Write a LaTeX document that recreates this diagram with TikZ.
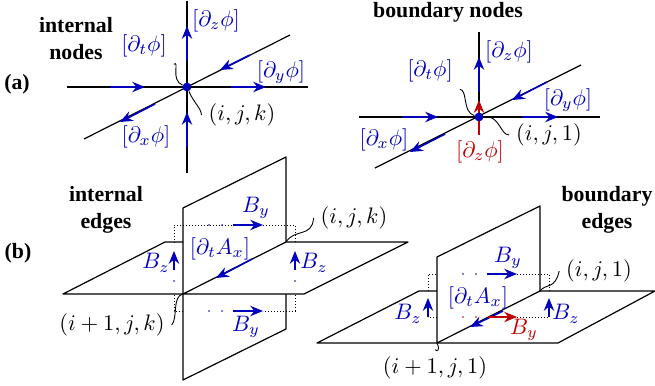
\documentclass[tikz,border=0pt]{standalone}
\usepackage{fix-cm}
\usepackage[no-math]{fontspec}
\newfontfamily\headfont{Liberation Serif}
\usetikzlibrary{arrows.meta}
\definecolor{fluxblue}{RGB}{0,0,190}
\definecolor{fluxred}{RGB}{190,0,0}
\tikzset{
  axis/.style={black,line width=0.6pt},
  plane/.style={black,line width=0.6pt,line join=round},
  flow/.style={fluxblue,line width=0.8pt,-{Stealth[length=6.4pt,width=5.2pt]}},
  redflow/.style={flow,fluxred},
  leader/.style={black,line width=0.45pt},
  gridline/.style={black,line width=0.5pt,dash pattern=on 0.6pt off 0.9pt},
  head/.style={font=\fontsize{10.9}{13}\selectfont\headfont\bfseries,align=center,text=black},
  bluelabel/.style={text=fluxblue},
  redlabel/.style={text=fluxred},
  site/.style={circle,fill=fluxblue,inner sep=0pt,minimum size=4.4pt},
}
\begin{document}
\begin{tikzpicture}[x=0.5pt,y=-0.5pt,font=\fontsize{11.2}{13}\selectfont]
  \useasboundingbox (0,0) rectangle (655,386);
  % headings
  \node[head] (lblA) at (17,84) {(a)};
  \node[head] (lblB) at (18,253) {(b)};
  \node[head] (headIN) at (76,39) {internal\\[0.5pt]nodes};
  \node[head] (headBN) at (448,12) {boundary nodes};
  \node[head] (headIE) at (106,210) {internal\\[0.5pt]edges};
  \node[head] (headBE) at (607,210) {boundary\\[0.5pt]edges};
  % (a) internal node
  \coordinate (cI) at (187,87);
  \coordinate (iW) at (67,87);
  \coordinate (iE) at (308,87);
  \coordinate (iN) at (187,1);
  \coordinate (iS) at (187,173);
  \coordinate (iF) at (84,139);
  \coordinate (iB) at (290,35);
  \draw[axis] (iW) -- (iE);
  \draw[axis] (iN) -- (iS);
  \draw[axis] (iF) -- (iB);
  \node[bluelabel] (dzI) at (216,21) {$[\partial_z\phi]$};
  \node[bluelabel] (dtI) at (144,46) {$[\partial_t\phi]$};
  \node[bluelabel] (dyI) at (281,72) {$[\partial_y\phi]$};
  \node[bluelabel] (dxI) at (146,137) {$[\partial_x\phi]$};
  \node (ijkI) at (242,115) {$(i,j,k)$};
  % (a) boundary node
  \coordinate (cB) at (479,117);
  \coordinate (bW) at (359,117);
  \coordinate (bE) at (600,117);
  \coordinate (bN) at (479,32);
  \coordinate (bF) at (375,168);
  \coordinate (bB) at (581,65);
  \draw[axis] (bW) -- (bE);
  \draw[axis] (bN) -- (cB);
  \draw[axis] (bF) -- (bB);
  \node[bluelabel] (dzB) at (509,52) {$[\partial_z\phi]$};
  \node[bluelabel] (dtB) at (430,71) {$[\partial_t\phi]$};
  \node[bluelabel] (dyB) at (568,100) {$[\partial_y\phi]$};
  \node[bluelabel] (dxB) at (384,140) {$[\partial_x\phi]$};
  \node[redlabel] (dzR) at (480,152) {$[\partial_z\phi]$};
  \node (ijkB) at (549,135) {$(i,j,1)$};
  % (b) internal edge
  \coordinate (pA) at (183,208);
  \coordinate (pB) at (286,157);
  \coordinate (pC) at (286,329);
  \coordinate (pD) at (183,380);
  \coordinate (pE) at (286,242);
  \coordinate (pF) at (286,294);
  \coordinate (pG) at (183,294);
  \coordinate (qA) at (63,294);
  \coordinate (qB) at (165,242);
  \coordinate (qC) at (183,242);
  \coordinate (qD) at (408,242);
  \coordinate (qE) at (304,294);
  \draw[plane] (pE) -- (pB) -- (pA) -- (pD) -- (pC) -- (pF);
  \draw[plane] (qC) -- (qB) -- (qA) -- (qE) -- (qD) -- (pE) -- (pG);
  \draw[gridline] (174,243) -- (174,225) -- (233,225);
  \draw[gridline] (263,225) -- (295,225) -- (295,243);
  \draw[gridline] (295,295) -- (295,311) -- (263,311);
  \draw[gridline] (183,311) -- (174,311) -- (174,295);
  \foreach \x/\y in {209/225,222/225,209/311,222/311,174/281,295/281}
    \fill[fluxblue] (\x,\y) circle (0.45pt);
  \node[bluelabel] (dtAI) at (220,249) {$[\partial_t A_x]$};
  \node[bluelabel] (byT) at (256,208) {$B_y$};
  \node[bluelabel] (byL) at (246,327) {$B_y$};
  \node[bluelabel] (bzL) at (156,263) {$B_z$};
  \node[bluelabel] (bzR) at (314,263) {$B_z$};
  \node (ijkE) at (354,218) {$(i,j,k)$};
  \node (ipE) at (112,325) {$(i+1,j,k)$};
  \draw[leader] (pE) .. controls (295,228) and (312,238) .. (ijkE.west);
  \draw[leader] (ipE.east) .. controls (178,318) and (172,296) .. (pG);
  % (b) boundary edge
  \coordinate (rA) at (437,257);
  \coordinate (rB) at (540,206);
  \coordinate (rC) at (540,291);
  \coordinate (rD) at (437,343);
  \coordinate (sA) at (317,343);
  \coordinate (sB) at (419,291);
  \coordinate (sC) at (437,291);
  \coordinate (sD) at (655,291);
  \coordinate (sE) at (558,343);
  \draw[plane] (rC) -- (rB) -- (rA) -- (rD) -- (rC);
  \draw[plane] (sC) -- (sB) -- (sA) -- (sE) -- (sD) -- (rC);
  \draw[gridline] (428,291) -- (428,274) -- (437,274);
  \draw[gridline] (517,274) -- (549,274) -- (549,291);
  \draw[gridline] (437,317) -- (428,317);
  \draw[gridline] (517,317) -- (549,317);
  \foreach \x/\y in {463/274,476/274}
    \fill[fluxblue] (\x,\y) circle (0.45pt);
  \foreach \x/\y in {463/317,476/317}
    \fill[fluxred] (\x,\y) circle (0.45pt);
  \node[bluelabel] (dtAB) at (478,298) {$[\partial_t A_x]$};
  \node[bluelabel] (byB) at (508,258) {$B_y$};
  \node[redlabel] (byR) at (524,330) {$B_y$};
  \node[bluelabel] (bzBL) at (408,314) {$B_z$};
  \node[bluelabel] (bzBR) at (566,314) {$B_z$};
  \node (ijkF) at (599,271) {$(i,j,1)$};
  \node (ipF) at (435,368) {$(i+1,j,1)$};
  \draw[leader] (rC) .. controls (546,283) and (555,290) .. (ijkF.west);
  \draw[leader] (rD) .. controls (440,350) and (438,352) .. (ipF.north);
  % arrows on the lines
  \foreach \n/\xa/\ya/\xb/\yb in {
      1/110/87/145/87,2/231/87/266/87,3/187/61/187/26,4/187/147/187/112,
      5/250/55/220/70,6/155/104/120/122,
      7/402/117/438/117,8/522/117/558/117,9/479/92/479/57,
      10/547/82/512/100,11/445/134/410/152,
      12/233/225/263/225,13/233/311/263/311,14/174/270/174/251,15/295/270/295/251,
      16/252/259/216/278,
      17/487/274/517/274,18/428/317/428/298,19/549/317/549/298,20/503/311/470/327} {
    \coordinate (a\n) at (\xa,\ya);
    \coordinate (b\n) at (\xb,\yb);
    \draw[flow] (a\n) -- (b\n);
  }
  \foreach \n/\xa/\ya/\xb/\yb in {21/479/135/479/100,22/488/317/517/317} {
    \coordinate (a\n) at (\xa,\ya);
    \coordinate (b\n) at (\xb,\yb);
    \draw[redflow] (a\n) -- (b\n);
  }
  % the two sites, on top
  \node[site] (nodeI) at (cI) {};
  \node[site] (nodeB) at (cB) {};
  \draw[leader] (dtI.south east) .. controls (180,60) and (170,80) .. (nodeI);
  \draw[leader] (nodeI) .. controls (195,105) and (200,106) .. (ijkI.west);
  \draw[leader] (dtB.south east) .. controls (468,90) and (462,112) .. (nodeB);
  \draw[leader] (nodeB) .. controls (500,115) and (500,135) .. (ijkB.west);
\end{tikzpicture}
\end{document}
